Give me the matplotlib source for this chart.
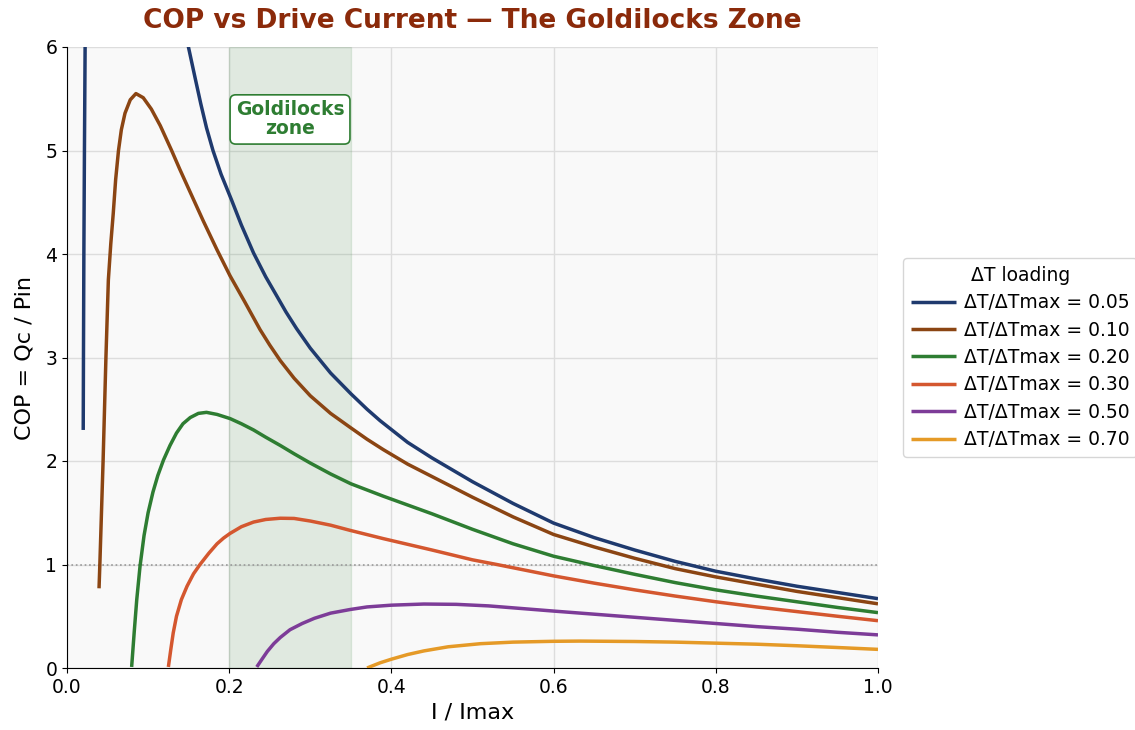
import matplotlib
matplotlib.use("Agg")
import matplotlib.pyplot as plt

# ---- data ----
labels = ["ΔT/ΔTmax = 0.05", "ΔT/ΔTmax = 0.10", "ΔT/ΔTmax = 0.20",
          "ΔT/ΔTmax = 0.30", "ΔT/ΔTmax = 0.50", "ΔT/ΔTmax = 0.70"]
colors = ["#1f3a6e", "#8b4513", "#2e7d32", "#d4572f", "#7d3c98", "#e59a27"]

x_005 = [0.0200, 0.0203, 0.0208, 0.0215, 0.0225, 0.030, 0.060, 0.100, 0.130,
         0.150, 0.158, 0.165, 0.172, 0.180, 0.190, 0.203, 0.215, 0.230, 0.245,
         0.259, 0.270, 0.283, 0.300, 0.325, 0.350, 0.370, 0.386, 0.420, 0.450,
         0.500, 0.550, 0.600, 0.650, 0.700, 0.750, 0.800, 0.850, 0.900, 0.950,
         1.000]
y_005 = [2.30, 3.00, 4.00, 5.00, 6.20, 9.0, 12.0, 9.0, 6.8,
         5.99, 5.70, 5.45, 5.22, 5.00, 4.77, 4.52, 4.28, 4.01, 3.78,
         3.59, 3.44, 3.28, 3.09, 2.85, 2.65, 2.50, 2.39, 2.18, 2.03,
         1.80, 1.59, 1.40, 1.26, 1.14, 1.03, 0.935, 0.86, 0.79, 0.73,
         0.67]

x_010 = [0.0395, 0.0405, 0.0445, 0.0480, 0.0510, 0.0540, 0.0570, 0.0600,
         0.0635, 0.0670, 0.0715, 0.0780, 0.0850, 0.0940, 0.104, 0.115, 0.129,
         0.139, 0.150, 0.168, 0.185, 0.201, 0.219, 0.238, 0.250, 0.263, 0.280,
         0.300, 0.325, 0.350, 0.370, 0.390, 0.420, 0.450, 0.500, 0.550, 0.600,
         0.650, 0.700, 0.750, 0.800, 0.850, 0.900, 0.950, 1.000]
y_010 = [0.77, 1.00, 2.00, 3.00, 3.75, 4.10, 4.39, 4.72,
         5.00, 5.20, 5.36, 5.49, 5.55, 5.51, 5.40, 5.24, 5.00,
         4.82, 4.63, 4.32, 4.04, 3.79, 3.54, 3.27, 3.12, 2.97, 2.80,
         2.63, 2.46, 2.32, 2.21, 2.11, 1.97, 1.85, 1.65, 1.46, 1.29,
         1.17, 1.06, 0.96, 0.88, 0.81, 0.74, 0.68, 0.62]

x_020 = [0.0797, 0.083, 0.086, 0.090, 0.095, 0.100, 0.106, 0.112, 0.119,
         0.127, 0.135, 0.143, 0.152, 0.162, 0.172, 0.185, 0.201, 0.215, 0.230,
         0.245, 0.263, 0.280, 0.300, 0.325, 0.350, 0.390, 0.450, 0.500, 0.550,
         0.600, 0.650, 0.700, 0.750, 0.800, 0.850, 0.900, 0.950, 1.000]
y_020 = [0.01, 0.36, 0.66, 0.98, 1.28, 1.50, 1.70, 1.86, 2.01,
         2.15, 2.27, 2.36, 2.42, 2.46, 2.47, 2.45, 2.41, 2.36, 2.30,
         2.23, 2.15, 2.07, 1.98, 1.875, 1.78, 1.66, 1.49, 1.34, 1.20,
         1.08, 0.99, 0.905, 0.825, 0.755, 0.695, 0.64, 0.585, 0.535]

x_030 = [0.125, 0.128, 0.131, 0.135, 0.141, 0.148, 0.156, 0.164, 0.175,
         0.185, 0.193, 0.201, 0.215, 0.230, 0.245, 0.263, 0.280, 0.300, 0.325,
         0.349, 0.390, 0.450, 0.500, 0.530, 0.600, 0.650, 0.700, 0.750, 0.800,
         0.850, 0.900, 0.950, 1.000]
y_030 = [0.01, 0.18, 0.34, 0.50, 0.66, 0.79, 0.91, 1.00, 1.11,
         1.20, 1.255, 1.30, 1.365, 1.41, 1.435, 1.447, 1.445, 1.42, 1.38,
         1.33, 1.25, 1.14, 1.045, 1.00, 0.89, 0.82, 0.755, 0.695, 0.64,
         0.59, 0.545, 0.50, 0.457]

x_050 = [0.234, 0.240, 0.247, 0.255, 0.263, 0.275, 0.290, 0.305, 0.325,
         0.349, 0.370, 0.400, 0.440, 0.480, 0.520, 0.560, 0.600, 0.650, 0.700,
         0.750, 0.800, 0.850, 0.900, 0.950, 1.000]
y_050 = [0.01, 0.08, 0.16, 0.235, 0.295, 0.37, 0.43, 0.48, 0.53,
         0.565, 0.59, 0.607, 0.618, 0.615, 0.60, 0.575, 0.55, 0.52, 0.49,
         0.46, 0.43, 0.40, 0.375, 0.345, 0.32]

x_070 = [0.370, 0.378, 0.386, 0.400, 0.420, 0.440, 0.470, 0.510, 0.550,
         0.600, 0.633, 0.700, 0.750, 0.800, 0.850, 0.900, 0.950, 1.000]
y_070 = [0.00, 0.025, 0.05, 0.085, 0.13, 0.165, 0.205, 0.235, 0.25,
         0.258, 0.26, 0.256, 0.25, 0.24, 0.23, 0.215, 0.198, 0.18]

series_x = [x_005, x_010, x_020, x_030, x_050, x_070]
series_y = [y_005, y_010, y_020, y_030, y_050, y_070]

zone = (0.20, 0.35)
x_ticks = [0.0, 0.2, 0.4, 0.6, 0.8, 1.0]
y_ticks = [0, 1, 2, 3, 4, 5, 6]

# ---- figure ----
fig = plt.figure(figsize=(11.35, 7.3), dpi=100)
ax = fig.add_axes([67 / 1135, 1 - 668 / 730, (878 - 67) / 1135, (668 - 47) / 730])
ax.set_facecolor("#f9f9f9")

ax.axvspan(zone[0], zone[1], facecolor="#2e7d32", alpha=0.12,
           edgecolor="#2e7d32", linewidth=1.0, zorder=1)
ax.axhline(1.0, color="#999999", linestyle=":", linewidth=1.2, zorder=1.5)

for xs, ys, c, lab in zip(series_x, series_y, colors, labels):
    ax.plot(xs, ys, color=c, linewidth=2.5, label=lab, zorder=3,
            solid_capstyle="butt", solid_joinstyle="round")

ax.text(0.275, 5.3, "Goldilocks\nzone", ha="center", va="center",
        fontsize=13.5, fontweight="bold", color="#2e7d32", linespacing=1.0,
        bbox=dict(boxstyle="round,pad=0.3", facecolor="white",
                  edgecolor="#2e7d32", linewidth=1.2), zorder=4)

ax.set_xlim(0, 1.0)
ax.set_ylim(0, 6)
ax.set_xticks(x_ticks)
ax.set_yticks(y_ticks)
ax.tick_params(labelsize=13.5)
ax.grid(True, color="#dddddd", linewidth=1.0, zorder=0)
ax.set_axisbelow(True)
for s in ["top", "right"]:
    ax.spines[s].set_visible(False)

ax.set_xlabel("I / Imax", fontsize=16)
ax.set_ylabel("COP = Qc / Pin", fontsize=16, labelpad=8)
ax.set_title("COP vs Drive Current — The Goldilocks Zone", fontsize=19,
             fontweight="bold", color="#8b2a0a", pad=14)

leg = ax.legend(title="ΔT loading", loc="center left",
                bbox_to_anchor=(1.031, 0.5), borderaxespad=0.0,
                fontsize=13.5, title_fontsize=13.5, frameon=True,
                handlelength=2.4, handletextpad=0.45, labelspacing=0.45,
                borderpad=0.4)
leg.get_frame().set_edgecolor("#cccccc")

fig.savefig("out.png", dpi=100)
